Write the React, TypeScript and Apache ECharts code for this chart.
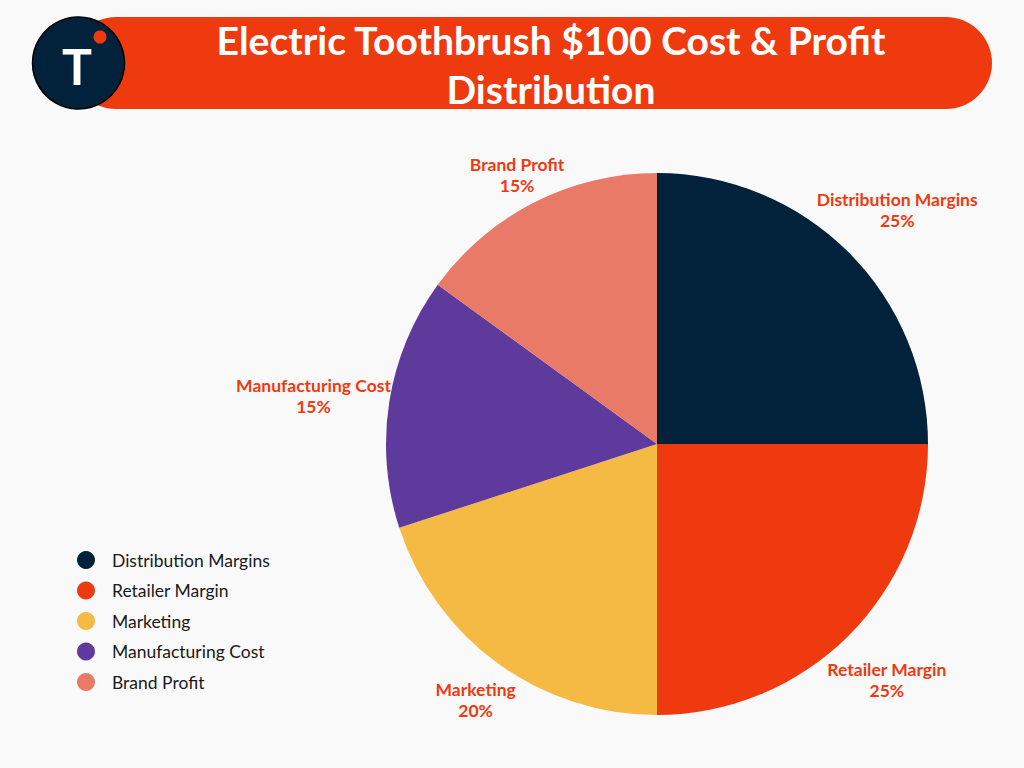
import React, { useEffect, useRef } from "react";
import * as echarts from "echarts";

const categories = ["Distribution Margins", "Retailer Margin", "Marketing", "Manufacturing Cost", "Brand Profit"];
const values = [25, 25, 20, 15, 15];
const colors = ["#02213A", "#EF3A10", "#F4BA43", "#5E3A9C", "#E97A68"];
const titleLines = ["Electric Toothbrush $100 Cost & Profit", "Distribution"];

const CX = 657;
const CY = 444;
const RADIUS = 271;
const GAP = -3;
const LABEL_SHIFT_Y = 6;

export default function App() {
  const ref = useRef<HTMLDivElement>(null);
  useEffect(() => {
    if (!ref.current) return;
    const chart = echarts.init(ref.current, null, { renderer: "svg" });
    const total = values.reduce((a, b) => a + b, 0);
    const option: any = {
      animation: false,
      backgroundColor: "#F9F9F9",
      color: colors,
      legend: {
        orient: "vertical",
        left: 72,
        top: 546,
        icon: "circle",
        itemWidth: 18,
        itemHeight: 18,
        itemGap: 12.5,
        data: categories,
        textStyle: {
          fontFamily: "Lato",
          fontSize: 17.5,
          color: "#1a1a1a",
          padding: [0, 0, 0, 12],
        },
      },
      graphic: [
        {
          type: "rect",
          shape: { x: 70, y: 17, width: 922, height: 92, r: 46 },
          style: { fill: "#EF3A10" },
          z: 1,
        },
        {
          type: "circle",
          shape: { cx: 78.5, cy: 63, r: 46 },
          style: { fill: "#02213A", stroke: "#000", lineWidth: 1.5 },
          z: 2,
        },
        {
          type: "text",
          x: 77,
          y: 66,
          style: {
            text: "T",
            fill: "#fff",
            font: "bold 50px Lato",
            align: "center",
            verticalAlign: "middle",
          },
          z: 3,
        },
        {
          type: "circle",
          shape: { cx: 100, cy: 37, r: 6.5 },
          style: { fill: "#EF3A10" },
          z: 3,
        },
        {
          type: "text",
          x: 551,
          y: 64,
          style: {
            text: titleLines.join("\n"),
            fill: "#fff",
            font: "bold 39px Lato",
            lineHeight: 49,
            align: "center",
            verticalAlign: "middle",
          },
          z: 3,
        },
      ],
      series: [
        {
          type: "pie",
          center: [CX, CY],
          radius: RADIUS,
          startAngle: 90,
          clockwise: true,
          data: categories.map((name, i) => ({ name, value: values[i] })),
          label: {
            show: true,
            position: "outside",
            formatter: "{b}\n{c}%",
            color: "#EF3A10",
            fontFamily: "Lato",
            fontWeight: "bold",
            fontSize: 17.5,
            lineHeight: 21,
            overflow: "none",
          },
          labelLine: { show: false },
          emphasis: { disabled: true },
          labelLayout: (p: any) => {
            const i = p.dataIndex;
            let cum = 0;
            for (let j = 0; j < i; j++) cum += values[j];
            const th = ((cum + values[i] / 2) / total) * 2 * Math.PI;
            const dx = Math.sin(th);
            const dy = -Math.cos(th);
            const w = p.labelRect.width;
            const h = p.labelRect.height;
            const d = RADIUS + GAP + (Math.abs(dx) * w) / 2 + (Math.abs(dy) * h) / 2;
            return {
              x: CX + d * dx,
              y: CY + d * dy + LABEL_SHIFT_Y,
              align: "center",
              verticalAlign: "middle",
            };
          },
        },
      ],
    };
    chart.setOption(option);
    return () => chart.dispose();
  }, []);
  return (
    <div
      ref={ref}
      style={{ position: "fixed", left: 0, top: 0, width: 1024, height: 768 }}
    />
  );
}
